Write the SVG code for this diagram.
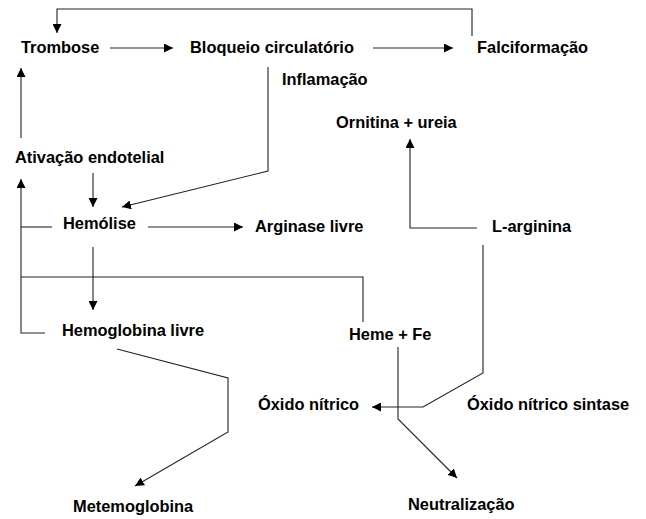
<svg xmlns="http://www.w3.org/2000/svg" width="646" height="519" viewBox="0 0 646 519">
<style>
.t{font-family:"Liberation Sans",Arial,Helvetica,sans-serif;font-weight:bold;font-size:16.4px;fill:#000}
.c{fill:none;stroke:#222;stroke-width:1.1}
</style>
<defs>
<marker id="ah" viewBox="0 0 10 10" refX="10" refY="5" markerWidth="9" markerHeight="9" markerUnits="userSpaceOnUse" orient="auto">
<path d="M0,0 L10,5 L0,10 z" fill="#000"/>
</marker>
</defs>
<rect width="646" height="519" fill="#fff"/>
<g id="connectors">
<polyline class="c" points="472,36 472,9 57,9 57,33" marker-end="url(#ah)"/>
<line class="c" x1="110" y1="48" x2="173" y2="48" marker-end="url(#ah)"/>
<line class="c" x1="373" y1="48" x2="453" y2="48" marker-end="url(#ah)"/>
<polyline class="c" points="268,67 268,171 122,207" marker-end="url(#ah)"/>
<polyline class="c" points="477,228 410,228 410,139" marker-end="url(#ah)"/>
<polyline class="c" points="483,245 483,373 423,407 372,407" marker-end="url(#ah)"/>
<polyline class="c" points="398,347 398,419 457,478" marker-end="url(#ah)"/>
<polyline class="c" points="117,349 228,378 228,432 135,486" marker-end="url(#ah)"/>
<line class="c" x1="21" y1="138" x2="21" y2="68" marker-end="url(#ah)"/>
<polyline class="c" points="45,333 21,333 21,179" marker-end="url(#ah)"/>
<line class="c" x1="21" y1="227" x2="52" y2="227"/>
<polyline class="c" points="21,277 363,277 363,322"/>
<line class="c" x1="93" y1="173" x2="93" y2="207" marker-end="url(#ah)"/>
<line class="c" x1="148" y1="227" x2="243" y2="227" marker-end="url(#ah)"/>
<line class="c" x1="93" y1="247" x2="93" y2="310" marker-end="url(#ah)"/>
</g>
<g id="trombose"><text class="t" x="21" y="53">Trombose</text></g>
<g id="bloqueio"><text class="t" x="190" y="53">Bloqueio circulatório</text></g>
<g id="falciformacao"><text class="t" x="477" y="53">Falciformação</text></g>
<g id="inflamacao"><text class="t" x="282" y="85">Inflamação</text></g>
<g id="ornitina"><text class="t" x="336" y="128">Ornitina + ureia</text></g>
<g id="ativacao"><text class="t" x="15" y="163">Ativação endotelial</text></g>
<g id="hemolise"><text class="t" x="63" y="229">Hemólise</text></g>
<g id="arginase"><text class="t" x="255" y="232">Arginase livre</text></g>
<g id="larginina"><text class="t" x="492" y="232">L-arginina</text></g>
<g id="hemoglobina"><text class="t" x="62" y="336">Hemoglobina livre</text></g>
<g id="heme"><text class="t" x="349" y="340">Heme + Fe</text></g>
<g id="oxido"><text class="t" x="258" y="410">Óxido nítrico</text></g>
<g id="sintase"><text class="t" x="467" y="410">Óxido nítrico sintase</text></g>
<g id="metemoglobina"><text class="t" x="73" y="512">Metemoglobina</text></g>
<g id="neutralizacao"><text class="t" x="408" y="510">Neutralização</text></g>
</svg>
